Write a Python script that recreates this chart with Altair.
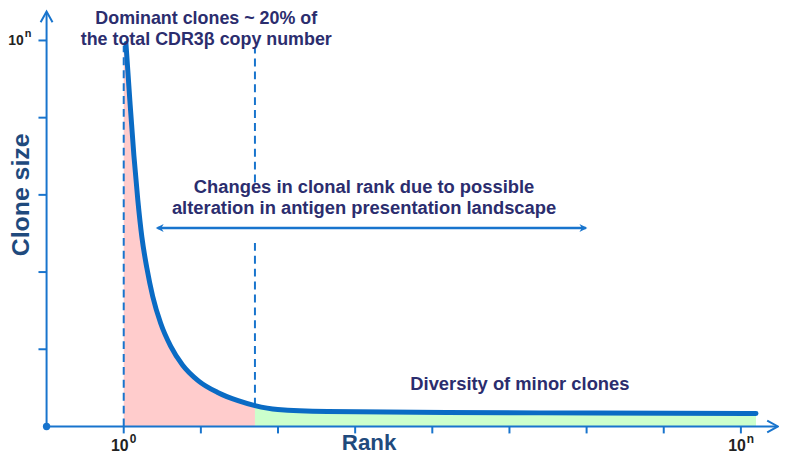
import altair as alt
import pandas as pd

# ---- data (rank index in log units, clone size in axis units) ----
rank = [1.029, 1.080, 1.132, 1.183, 1.235, 1.299, 1.376, 1.479, 1.608, 1.762,
        1.968, 2.225, 2.482, 2.701, 2.997, 3.640, 5.183, 7.113, 9.196]
size = [4.961, 4.216, 3.509, 2.931, 2.455, 2.057, 1.684, 1.337, 1.041, 0.797,
        0.591, 0.437, 0.334, 0.270, 0.219, 0.193, 0.180, 0.174, 0.167]
split_rank = 2.701         # boundary between dominant and minor clones
x_ticks = [1, 2, 3, 4, 5, 6, 7, 8, 9]
y_ticks = [1, 2, 3, 4, 5]
x_label_pos = [1, 9]
x_label_sup = ["0", "n"]
y_label_pos = [5]
y_label_sup = ["n"]

NAVY = "#2B2D6E"
AXIS_BLUE = "#1874CD"
CURVE_BLUE = "#0A6BC4"
TITLE_BLUE = "#1F4A7D"
FONT = "Liberation Sans"

X_SCALE = alt.Scale(domain=[-0.5, 9.494], nice=False, zero=False)
Y_SCALE = alt.Scale(domain=[-0.386, 5.398], nice=False, zero=False)


def X(f):
    return alt.X(f, type="quantitative", scale=X_SCALE, axis=None)


def Y(f):
    return alt.Y(f, type="quantitative", scale=Y_SCALE, axis=None)


curve = pd.DataFrame({"rank": rank, "size": size})
curve["base"] = 0.0
pink_df = pd.concat([pd.DataFrame({"rank": [1.0], "size": [4.961], "base": [0.0]}),
                     curve[curve["rank"] <= split_rank]])
green_df = curve[curve["rank"] >= split_rank]

area_pink = alt.Chart(pink_df).mark_area(color="#FFCCCC", interpolate="monotone").encode(
    x=X("rank"), y=Y("size"), y2="base")
area_green = alt.Chart(green_df).mark_area(color="#CCFFCC", interpolate="monotone").encode(
    x=X("rank"), y=Y("size"), y2="base")

# dashed guide lines
dash_df = pd.DataFrame({
    "x": [1.0, split_rank, split_rank],
    "y": [0.0, 0.27, 3.16],
    "y2": [4.93, 2.42, 4.90],
})
dashes = alt.Chart(dash_df).mark_rule(color=AXIS_BLUE, strokeWidth=2, strokeDash=[8, 5]).encode(
    x=X("x"), y=Y("y"), y2="y2")

line = alt.Chart(curve).mark_line(color=CURVE_BLUE, strokeWidth=5, strokeCap="round",
                                   interpolate="monotone").encode(x=X("rank"), y=Y("size"))

# axes drawn as rules
xaxis = alt.Chart(pd.DataFrame({"x": [0.0], "x2": [9.47], "y": [0.0]})).mark_rule(
    color=AXIS_BLUE, strokeWidth=2).encode(x=X("x"), x2="x2", y=Y("y"))
yaxis = alt.Chart(pd.DataFrame({"x": [0.0], "y": [0.0], "y2": [5.365]})).mark_rule(
    color=AXIS_BLUE, strokeWidth=2).encode(x=X("x"), y=Y("y"), y2="y2")

xt_df = pd.DataFrame({"x": x_ticks, "y": [0.0] * len(x_ticks), "y2": [-0.09] * len(x_ticks)})
xticks = alt.Chart(xt_df).mark_rule(color=AXIS_BLUE, strokeWidth=2).encode(
    x=X("x"), y=Y("y"), y2="y2")
yt_df = pd.DataFrame({"y": y_ticks, "x": [-0.105] * len(y_ticks), "x2": [0.0] * len(y_ticks)})
yticks = alt.Chart(yt_df).mark_rule(color=AXIS_BLUE, strokeWidth=2).encode(
    x=X("x"), x2="x2", y=Y("y"))

origin = alt.Chart(pd.DataFrame({"x": [0.0], "y": [0.0]})).mark_circle(
    color=AXIS_BLUE, size=55, opacity=1).encode(x=X("x"), y=Y("y"))

CHEVRON = "M-1.8,-1L0,0L-1.8,1"
ax_tips = pd.DataFrame({"x": [9.48, 0.0], "y": [0.0, 5.375], "ang": [0, 270]})
axis_arrows = alt.Chart(ax_tips).mark_point(
    shape=CHEVRON, filled=False, size=144, strokeWidth=2, color=AXIS_BLUE, opacity=1).encode(
    x=X("x"), y=Y("y"), angle=alt.Angle("ang:Q", scale=None))

# double-headed arrow
arrow_line = alt.Chart(pd.DataFrame({"x": [1.44], "x2": [6.99], "y": [2.571]})).mark_rule(
    color=AXIS_BLUE, strokeWidth=2.5).encode(x=X("x"), x2="x2", y=Y("y"))
STEALTH = "M0,0L-2,-1L-1.4,0L-2,1Z"
heads = pd.DataFrame({"x": [1.415, 7.01], "y": [2.571, 2.571], "ang": [180, 0]})
arrow_heads = alt.Chart(heads).mark_point(
    shape=STEALTH, filled=True, size=64, color=AXIS_BLUE, opacity=1, strokeWidth=1).encode(
    x=X("x"), y=Y("y"), angle=alt.Angle("ang:Q", scale=None))

# tick labels with superscripts
xl_df = pd.DataFrame({"x": x_label_pos, "y": [-0.257] * 2, "sup": x_label_sup})
xl_main = alt.Chart(xl_df).mark_text(font=FONT, fontWeight="bold", fontSize=16, color="#222222",
                                     align="right", baseline="middle", dx=5).encode(
    x=X("x"), y=Y("y"), text=alt.value("10"))
xl_sup = alt.Chart(xl_df).mark_text(font=FONT, fontWeight="bold", fontSize=12, color="#222222",
                                    align="left", baseline="middle", dx=6, dy=-7).encode(
    x=X("x"), y=Y("y"), text="sup:N")

yl_df = pd.DataFrame({"x": [0.0], "y": y_label_pos, "sup": y_label_sup})
yl_main = alt.Chart(yl_df).mark_text(font=FONT, fontWeight="bold", fontSize=14, color="#222222",
                                     align="right", baseline="middle", dx=-23, dy=1).encode(
    x=X("x"), y=Y("y"), text=alt.value("10"))
yl_sup = alt.Chart(yl_df).mark_text(font=FONT, fontWeight="bold", fontSize=11, color="#222222",
                                    align="left", baseline="middle", dx=-22, dy=-6).encode(
    x=X("x"), y=Y("y"), text="sup:N")

# annotations
title_notes = pd.DataFrame({
    "x": [2.07, 2.07],
    "y": [5.275, 5.005],
    "t": ["Dominant clones ~ 20% of", "the total CDR3β copy number"],
})
title_text = alt.Chart(title_notes).mark_text(font=FONT, fontWeight="bold", fontSize=18,
                                              color=NAVY, align="center",
                                              baseline="middle").encode(
    x=X("x"), y=Y("y"), text="t:N")

notes = pd.DataFrame({
    "x": [4.115, 4.115, 6.135],
    "y": [3.098, 2.828, 0.553],
    "t": ["Changes in clonal rank due to possible",
          "alteration in antigen presentation landscape",
          "Diversity of minor clones"],
})
note_text = alt.Chart(notes).mark_text(font=FONT, fontWeight="bold", fontSize=18.5, color=NAVY,
                                       align="center", baseline="middle").encode(
    x=X("x"), y=Y("y"), text="t:N")

rank_title = alt.Chart(pd.DataFrame({"x": [4.18], "y": [-0.22], "t": ["Rank"]})).mark_text(
    font=FONT, fontWeight="bold", fontSize=22.5, color=TITLE_BLUE, align="center",
    baseline="middle").encode(x=X("x"), y=Y("y"), text="t:N")
size_title = alt.Chart(pd.DataFrame({"x": [-0.33], "y": [3.0], "t": ["Clone size"]})).mark_text(
    font=FONT, fontWeight="bold", fontSize=25, color=TITLE_BLUE, align="center",
    baseline="middle", angle=270).encode(x=X("x"), y=Y("y"), text="t:N")

chart = alt.layer(
    area_pink, area_green, dashes, line, xaxis, yaxis, xticks, yticks, origin,
    axis_arrows, arrow_line, arrow_heads, xl_main, xl_sup, yl_main, yl_sup,
    title_text, note_text, rank_title, size_title,
).properties(
    width=777, height=450, padding=0,
    autosize=alt.AutoSizeParams(type="none"),
).configure_view(stroke=None)

chart.save("out.html", embed_options={"renderer": "svg", "actions": False})
